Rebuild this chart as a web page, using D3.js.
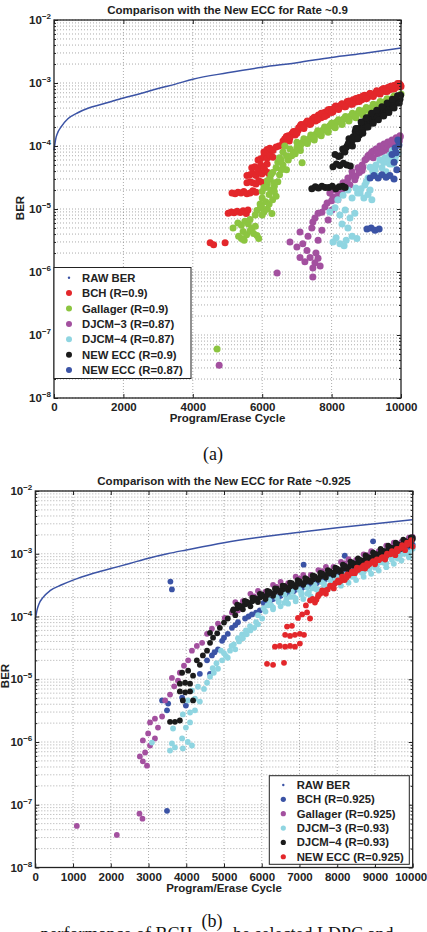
<!DOCTYPE html>
<html>
<head>
<meta charset="utf-8">
<script src="https://cdnjs.cloudflare.com/ajax/libs/d3/7.8.5/d3.min.js"></script>
<style>
  body { margin: 0; background: #fff; }
  svg { display: block; }
  text { font-family: "Liberation Sans", Arial, sans-serif; font-weight: bold; fill: #222; }
  .caption { font-family: "Liberation Serif", "Times New Roman", serif; font-weight: normal; fill: #111; }
</style>
</head>
<body>
<div id="chart"></div>
<script>
// ---- shared ticks ----
const decades = [1e-8, 1e-7, 1e-6, 1e-5, 1e-4, 1e-3, 1e-2];
const mantissas = [2, 3, 4, 5, 6, 7, 8, 9];
const xTicksA = [0, 2000, 4000, 6000, 8000, 10000];
const xTicksB = [0, 1000, 2000, 3000, 4000, 5000, 6000, 7000, 8000, 9000, 10000];

// ---- panel (a): Rate ~0.9 ----
const rawCyclesA = [0, 50, 100, 200, 400, 700, 1000, 1500, 2000, 2500, 3000, 3500, 4000, 5000, 6000, 7000, 8000, 9000, 10000];
const rawBerA = [8.5e-5, 1.3e-4, 1.6e-4, 2.0e-4, 2.7e-4, 3.4e-4, 4.0e-4, 4.8e-4, 5.8e-4, 6.8e-4, 8.2e-4, 9.6e-4, 1.15e-3, 1.45e-3, 1.78e-3, 2.1e-3, 2.55e-3, 3.0e-3, 3.6e-3];

const bchA = [
  [4500,2.9e-6],[4600,2.7e-6],[4930,2.9e-6],
  [5020,8.6e-6],[5110,9.0e-6],[5190,8.7e-6],[5280,9.2e-6],[5370,8.8e-6],[5450,9.4e-6],[5540,8.5e-6],[5590,9.6e-6],
  [5130,1.8e-5],[5220,1.75e-5],[5300,1.85e-5],[5390,1.8e-5],[5470,1.9e-5],[5560,1.75e-5],[5650,1.8e-5],[5730,1.95e-5],[5820,1.85e-5],
  [5560,2.6e-5],[5650,2.7e-5],[5730,2.6e-5],[5820,2.5e-5],[5900,2.8e-5],[5990,2.65e-5],
  [5560,3.4e-5],[5650,3.5e-5],[5730,3.7e-5],[5820,3.4e-5],[5900,3.9e-5],[5990,3.6e-5],[6080,4.1e-5],[6160,3.8e-5],[6220,3.4e-5],
  [5700,4.5e-5],[5790,4.7e-5],[5880,4.4e-5],[5960,5.0e-5],[6050,4.6e-5],[6140,5.2e-5],
  [5880,6.0e-5],[5960,6.3e-5],[6050,6.9e-5],[6140,6.4e-5],[6220,7.2e-5],[6310,6.6e-5],
  [6050,8.0e-5],[6140,8.8e-5],[6220,9.2e-5],[6310,8.5e-5],[6400,9.6e-5],[6480,1.0e-4],[6570,1.05e-4],
  [6600,1.2e-4],[6700,1.4e-4],[6780,1.2e-4],[6870,1.6e-4],[6950,1.5e-4],[7040,1.8e-4],[7120,2.2e-4],[7200,1.9e-4],
  [7290,2.4e-4],[7370,2.2e-4],[7450,2.7e-4],[7540,2.5e-4],[7620,3.1e-4],[7700,2.8e-4],[7790,3.4e-4],[7870,3.1e-4],
  [7950,3.8e-4],[8040,3.5e-4],[8120,4.3e-4],[8200,3.9e-4],[8290,4.6e-4],[8370,4.2e-4],[8450,5.1e-4],[8540,4.6e-4],
  [8620,5.4e-4],[8700,5.0e-4],[8790,5.9e-4],[8870,5.4e-4],[8950,6.4e-4],[9040,5.9e-4],[9120,6.8e-4],[9200,6.3e-4],
  [9290,7.2e-4],[9370,6.8e-4],[9450,7.9e-4],[9540,7.3e-4],[9620,8.5e-4],[9700,7.9e-4],[9790,9.1e-4],[9870,8.6e-4],
  [9950,9.8e-4],[9990,9.2e-4],
  [6650,1.3e-4],[6750,1.45e-4],[6850,1.55e-4],[6950,1.7e-4],[7050,1.95e-4],[7150,2.15e-4],[7250,2.3e-4],[7350,2.45e-4],
  [7450,2.6e-4],[7550,2.85e-4],[7650,3.05e-4],[7750,3.25e-4],[7850,3.45e-4],[7950,3.7e-4],[8050,3.9e-4],[8150,4.1e-4],
  [8250,4.35e-4],[8350,4.55e-4],[8450,4.8e-4],[8550,5.0e-4],[8650,5.25e-4],[8750,5.5e-4],[8850,5.7e-4],[8950,6.0e-4],
  [9050,6.25e-4],[9150,6.55e-4],[9250,6.85e-4],[9350,7.15e-4],[9450,7.5e-4],[9550,7.85e-4],[9650,8.2e-4],[9750,8.6e-4],
  [9850,9.0e-4],[9950,9.5e-4],
  [6700,1.42e-4],[6900,1.7e-4],[7100,2.1e-4],[7300,2.5e-4],[7500,2.85e-4],[7700,3.3e-4],[7900,3.75e-4],[8100,4.2e-4],
  [8300,4.7e-4],[8500,5.2e-4],[8700,5.7e-4],[8900,6.2e-4],[9100,6.8e-4],[9300,7.5e-4],[9500,8.2e-4],[9700,8.9e-4],[9900,9.8e-4],
  [6800,1.35e-4],[7000,1.6e-4],[7200,1.95e-4],[7400,2.25e-4],[7600,2.6e-4],[7800,2.95e-4],[8000,3.4e-4],[8200,3.8e-4],
  [8400,4.2e-4],[8600,4.6e-4],[8800,5.1e-4],[9000,5.6e-4],[9200,6.1e-4],[9400,6.7e-4],[9600,7.3e-4],[9800,8.0e-4],[10000,8.8e-4]
];

const gallagerA = [
  [4700,6e-8],
  [5160,5e-6],[5300,6e-6],[5400,5.5e-6],[5500,6.4e-6],[5600,5.8e-6],[5700,4.9e-6],[5450,4.4e-6],[5550,3.9e-6],
  [5650,4.5e-6],[5750,4.1e-6],[5850,3.8e-6],[5400,3.4e-6],[5320,3.7e-6],[5900,3.4e-6],[5480,3.2e-6],[5800,5.3e-6],[5650,6.8e-6],
  [5850,9.5e-6],[5950,1.05e-5],[6050,9e-6],[6150,1.0e-5],[6280,8.5e-6],[5800,8e-6],[6000,8e-6],
  [5940,1.2e-5],[6000,1.5e-5],[6100,1.3e-5],[6200,1.7e-5],[6300,1.4e-5],[6400,1.6e-5],[5980,1.1e-5],[6200,1.2e-5],
  [6050,2.2e-5],[6150,2.5e-5],[6250,2.0e-5],[6350,2.3e-5],[6450,2.7e-5],[6000,1.9e-5],[6100,2.2e-5],[6350,1.9e-5],
  [6220,3.0e-5],[6300,3.8e-5],[6400,4.5e-5],[6500,3.5e-5],[6600,5.0e-5],[6700,4.2e-5],[6350,2.6e-5],[6250,3.5e-5],[6150,2.8e-5],[6550,4.2e-5],
  [6500,6.5e-5],[6600,8e-5],[6700,7e-5],[6800,9e-5],[6900,8e-5],[7000,9.5e-5],[7100,8.5e-5],[7150,5.4e-5],[6650,1.0e-4],
  [6450,5.5e-5],[6550,6e-5],[6750,6e-5],[6850,7e-5],[6950,7.5e-5],
  [7100,1.0e-4],[7200,1.2e-4],[7300,1.1e-4],[7400,1.35e-4],[7500,1.25e-4],[7600,1.55e-4],[7700,1.45e-4],[7800,1.8e-4],
  [7900,1.65e-4],[8000,2.1e-4],[8100,1.95e-4],[8200,2.4e-4],[8300,2.2e-4],[8400,2.7e-4],[8500,2.5e-4],[8600,3.0e-4],
  [8700,2.8e-4],[8800,3.4e-4],[8900,3.1e-4],[9000,3.8e-4],[9100,3.5e-4],[9200,4.2e-4],[9300,3.9e-4],[9400,4.7e-4],
  [9500,4.3e-4],[9600,5.2e-4],[9700,4.8e-4],[9800,5.8e-4],[9900,5.4e-4],[9980,6.4e-4],[7000,1.15e-4],
  [7150,1.12e-4],[7250,1.2e-4],[7350,1.3e-4],[7450,1.42e-4],[7550,1.55e-4],[7650,1.68e-4],[7750,1.8e-4],[7850,1.95e-4],
  [7950,2.12e-4],[8050,2.3e-4],[8150,2.42e-4],[8250,2.55e-4],[8350,2.7e-4],[8450,2.85e-4],[8550,3.0e-4],[8650,3.15e-4],
  [8750,3.3e-4],[8850,3.5e-4],[8950,3.7e-4],[9050,3.9e-4],[9150,4.1e-4],[9250,4.35e-4],[9350,4.6e-4],[9450,4.85e-4],
  [9550,5.1e-4],[9650,5.4e-4],[9750,5.7e-4],[9850,6.0e-4],[9950,6.3e-4],
  [7200,1.3e-4],[7400,1.5e-4],[7600,1.75e-4],[7800,2.0e-4],[8000,2.3e-4],[8200,2.6e-4],[8400,2.95e-4],[8600,3.3e-4],
  [8800,3.7e-4],[9000,4.1e-4],[9200,4.6e-4],[9400,5.1e-4],[9600,5.6e-4],[9800,6.2e-4],[10000,6.7e-4],
  [7300,1.15e-4],[7500,1.35e-4],[7700,1.55e-4],[7900,1.75e-4],[8100,2.0e-4],[8300,2.3e-4],[8500,2.6e-4],[8700,2.9e-4],
  [8900,3.25e-4],[9100,3.6e-4],[9300,4.0e-4],[9500,4.45e-4],[9700,4.95e-4],[9900,5.5e-4]
];

const djcm3A = [
  [4760,3.3e-8],[6430,9.6e-7],[7460,8.3e-7],
  [6800,3.0e-6],[7000,2.5e-6],[7170,2.8e-6],[7290,2.2e-6],[7090,1.7e-6],[7230,1.45e-6],[7380,1.7e-6],[7520,1.4e-6],
  [7610,1.65e-6],[7460,1.16e-6],[7670,1.25e-6],[7550,2.0e-6],
  [7090,4.3e-6],[7320,3.7e-6],[7430,5.0e-6],[7610,3.2e-6],[7720,4.6e-6],[7460,6.2e-6],
  [7520,7.2e-6],[7720,8.9e-6],[7900,6.7e-6],[7810,1.08e-5],[8010,9.6e-6],[7610,8.6e-6],
  [7870,1.25e-5],[8040,1.55e-5],[8180,1.4e-5],[8100,2.0e-5],[8300,1.8e-5],[8390,2.15e-5],[7950,1.8e-5],[8000,1.35e-5],[8200,1.7e-5],
  [8330,2.6e-5],[8470,3.1e-5],[8590,3.9e-5],[8700,3.3e-5],[8760,4.5e-5],[8880,5.0e-5],[8530,2.4e-5],[8670,2.9e-5],[8880,4.1e-5],
  [8450,2.7e-5],[8600,3.4e-5],[8800,3.8e-5],[8900,4.6e-5],
  [8960,6.0e-5],[9050,7.0e-5],[9160,8.0e-5],[9280,9.0e-5],[9390,1.0e-4],[9510,1.08e-4],[9620,1.16e-4],[9740,1.25e-4],
  [9860,1.35e-4],[9970,1.45e-4],[9110,6.8e-5],[9330,7.5e-5],[9570,8.6e-5],[9800,1.0e-4],[9910,1.16e-4],
  [9000,6.3e-5],[9100,7.3e-5],[9200,8.3e-5],[9300,8.5e-5],[9400,9.3e-5],[9500,1.0e-4],[9600,1.08e-4],[9700,1.15e-4],
  [9800,1.22e-4],[9900,1.3e-4],[9980,1.4e-4],[9200,6.5e-5],[9450,8e-5],[9700,9.5e-5],[9950,1.2e-4]
];

const djcm4A = [
  [7950,9e-6],[8100,1.05e-5],[8240,8e-6],[8390,9.6e-6],[8530,7.2e-6],[8670,8.6e-6],[8300,5.8e-6],[8470,5e-6],
  [8130,3.5e-6],[8240,2.8e-6],[8420,3.2e-6],[8590,3.7e-6],[8730,3.4e-6],[8360,2.6e-6],[8040,3.0e-6],
  [8180,1.4e-5],[8330,1.65e-5],[8470,2.0e-5],[8590,1.5e-5],[8700,2.15e-5],[8820,1.8e-5],[8960,2.4e-5],[9110,2.0e-5],
  [8930,1.5e-5],[9160,1.4e-5],[8850,2.1e-5],[8750,1.8e-5],[9050,1.7e-5],[9000,2.7e-5],
  [9050,3.1e-5],[9190,3.9e-5],[9330,3.3e-5],[9450,4.5e-5],[9570,3.9e-5],[9680,5.2e-5],[9250,4.2e-5],
  [9390,6.0e-5],[9540,6.5e-5],[9680,7.2e-5],[9830,6.0e-5],[9910,7.7e-5],[9280,5.0e-5],[9110,4.6e-5],[9750,8.5e-5],
  [9600,5.5e-5],[9500,5.5e-5],[9650,6.2e-5],[9750,5.2e-5],[9850,7e-5]
];

const newEcc90A = [
  [7430,2.1e-5],[7530,2.25e-5],[7620,2.15e-5],[7720,2.3e-5],[7820,2.2e-5],[7920,2.2e-5],[8020,2.3e-5],[8120,2.1e-5],
  [8220,2.25e-5],[8320,2.3e-5],[8390,2.2e-5],
  [8040,4.7e-5],[8140,5.2e-5],[8240,4.9e-5],[8340,5.3e-5],[8440,5.0e-5],[8540,4.8e-5],[8100,7.3e-5],[8200,6.8e-5],
  [8250,7e-5],[8320,9e-5],[8380,8e-5],[8450,1.0e-4],[8500,1.3e-4],[8560,1.1e-4],[8620,1.4e-4],[8680,1.7e-4],[8700,1.3e-4],
  [8760,1.9e-4],[8800,1.5e-4],[8870,2.2e-4],[8900,1.8e-4],[8960,2.5e-4],[9000,2.0e-4],[9060,2.8e-4],[9100,2.3e-4],
  [9170,3.0e-4],[9220,2.6e-4],[9280,3.4e-4],[9330,2.8e-4],[9390,3.6e-4],[9450,3.1e-4],[9500,4.0e-4],[9550,3.4e-4],
  [9610,4.3e-4],[9660,3.8e-4],[9720,4.8e-4],[9780,4.2e-4],[9830,5.4e-4],[9880,4.8e-4],[9930,6.0e-4],[9970,5.5e-4],[9990,6.4e-4],
  [8350,8.5e-5],[8420,9.5e-5],[8480,1.1e-4],[8540,1.15e-4],[8600,1.25e-4],[8660,1.4e-4],[8730,1.55e-4],[8790,1.7e-4],
  [8850,1.85e-4],[8920,2.0e-4],[8980,2.2e-4],[9040,2.35e-4],[9110,2.5e-4],[9180,2.65e-4],[9250,2.85e-4],[9310,3.0e-4],
  [9380,3.2e-4],[9440,3.35e-4],[9510,3.5e-4],[9570,3.75e-4],[9630,4.0e-4],[9690,4.25e-4],[9750,4.6e-4],[9810,4.95e-4],
  [9870,5.3e-4],[9940,5.8e-4],
  [8600,1.0e-4],[8750,1.3e-4],[8900,1.6e-4],[9050,2.0e-4],[9200,2.3e-4],[9350,2.6e-4],[9500,3.0e-4],[9650,3.4e-4],
  [9800,4.0e-4],[9950,4.8e-4],[8700,1.9e-4],[8850,2.4e-4],[9000,2.8e-4],[9150,3.3e-4],[9300,3.7e-4],[9450,4.2e-4],
  [9600,4.8e-4],[9750,5.5e-4],[9900,6.3e-4]
];

const newEcc87A = [
  [9020,4.8e-6],[9140,5e-6],[9250,4.6e-6],[9370,4.8e-6],
  [9110,3.1e-5],[9220,3.4e-5],[9340,3.1e-5],[9450,3.5e-5],[9570,3.2e-5],[9680,3.4e-5],[9800,3.0e-5],[9880,4.2e-5],
  [9740,7.3e-5],[9830,9.3e-5],[9910,1.25e-4],[9860,7.8e-5],[9940,1.04e-4],[9800,5.5e-5]
];

// ---- panel (b): Rate ~0.925 ----
const rawCyclesB = [0, 50, 100, 200, 400, 700, 1000, 1500, 2000, 2500, 3000, 3500, 4000, 5000, 6000, 7000, 8000, 9000, 10000];
const rawBerB = [9e-5, 1.3e-4, 1.6e-4, 2.0e-4, 2.6e-4, 3.2e-4, 3.8e-4, 4.8e-4, 5.8e-4, 7.0e-4, 8.5e-4, 1.0e-3, 1.15e-3, 1.5e-3, 1.85e-3, 2.2e-3, 2.6e-3, 3.0e-3, 3.5e-3];

const bchB = [
  [3580,3.6e-4],[3620,2.7e-4],[7110,6.7e-4],[8200,9.3e-4],[8950,1.58e-3],[3490,8e-8],
  [3360,4.6e-6],[3490,3.2e-6],[3520,4.1e-6],[3890,5.1e-6],[3990,3.8e-6],[4360,1.22e-5],[4630,1.22e-5],
  [4550,2e-5],[4680,2.4e-5],[4840,3e-5],[4950,4.1e-5],[5100,5.3e-5],[5210,6.6e-5],[5370,8.1e-5],[5560,9.3e-5],
  [5740,1.08e-4],[5950,1.25e-4],[4750,2.7e-5],[5000,4.6e-5],[5300,7.3e-5],[5650,1.0e-4],[5850,1.15e-4],
  [6100,1.7e-4],[6300,1.9e-4],[6500,2.15e-4],[6700,2.4e-4],[6900,2.7e-4],[7100,2.95e-4],[7300,3.3e-4],[7500,3.6e-4],
  [7700,4.0e-4],[7900,4.4e-4],[8100,4.9e-4],[8300,5.4e-4],[8500,6.0e-4],[8700,6.6e-4],[8900,7.4e-4],[9100,8.2e-4],
  [9300,9.1e-4],[9500,1.02e-3],[9700,1.13e-3],[9900,1.28e-3],[10000,1.4e-3],
  [6050,1.65e-4],[6250,1.85e-4],[6450,2.05e-4],[6650,2.3e-4],[6850,2.55e-4],[7050,2.8e-4],[7250,3.1e-4],[7450,3.4e-4],
  [7650,3.75e-4],[7850,4.15e-4],[8050,4.6e-4],[8250,5.1e-4],[8450,5.6e-4],[8650,6.2e-4],[8850,6.9e-4],[9050,7.7e-4],
  [9250,8.6e-4],[9450,9.6e-4],[9650,1.07e-3],[9850,1.2e-3]
];

const gallagerB = [
  [2760,7.2e-8],[2840,6e-8],[1100,4.6e-8],[2160,3.3e-8],
  [2770,5.9e-7],[2850,4.9e-7],[2960,4.2e-7],[2910,6.8e-7],[3040,8.8e-7],[2850,1.06e-6],[3170,1.14e-6],[2990,1.37e-6],
  [3250,1.7e-6],[3040,2.05e-6],[3170,2.35e-6],[3360,2.55e-6],[3440,4.6e-6],[3570,5.7e-6],[3680,7.7e-6],[3780,9.5e-6],
  [3620,1.05e-5],[3830,1.27e-5],[3940,1.64e-5],[4050,2e-5],[4150,2.85e-5],[4280,3.4e-5],[4420,3.8e-5],[4550,5.3e-5],
  [4680,6.4e-5],[4840,7.7e-5],[5020,9.5e-5],[5210,1.16e-4],[5370,1.25e-4],
  [5500,1.75e-4],[5800,2.1e-4],[6100,2.5e-4],[6400,2.95e-4],[6700,3.4e-4],[7000,4.0e-4],[7300,4.6e-4],[7600,5.3e-4],
  [7900,6.2e-4],[8200,7.0e-4],[8500,8.0e-4],[8800,9.5e-4],[9100,1.1e-3],[9400,1.3e-3],[9700,1.55e-3],[10000,1.85e-3],
  [5300,1.7e-4],[5700,2.3e-4],[5900,2.55e-4],[6300,3.2e-4],[6500,3.55e-4],[6900,4.3e-4],[7100,4.6e-4],[7500,5.5e-4],
  [7700,6.2e-4],[8100,7.4e-4],[8300,8.2e-4],[8700,9.8e-4],[8900,1.1e-3],[9300,1.35e-3],[9500,1.5e-3],[9900,1.8e-3]
];

const djcm3B = [
  [3090,9.8e-7],[3570,7.3e-7],[3700,8.2e-7],[3620,9.5e-7],[3910,7.9e-7],[4040,1.0e-6],[4150,8.8e-7],[3890,1.14e-6],
  [3650,1.64e-6],[3990,1.7e-6],[4100,2.05e-6],[3910,2.75e-6],[4100,2.95e-6],[4230,3.2e-6],[4040,4.6e-6],[4230,4.9e-6],
  [4360,4.4e-6],[4150,6.6e-6],[4310,7.6e-6],[4470,7e-6],[4550,8.8e-6],[4630,1.1e-5],[4730,1.27e-5],[4840,1.47e-5],
  [4950,2e-5],[5050,2.35e-5],[5160,2.85e-5],[4920,2.85e-5],[5260,3.6e-5],[5370,4.5e-5],[5480,5.2e-5],[5580,6e-5],
  [5690,7e-5],[5850,8.1e-5],[6010,9.3e-5],
  [4700,1.5e-5],[4800,1.8e-5],[5000,2.6e-5],[5100,2.2e-5],[5200,3.4e-5],[5300,3.0e-5],[5400,4e-5],[5500,4.5e-5],
  [5600,5.2e-5],[5700,6e-5],[5800,6.6e-5],[5900,7.5e-5],
  [6150,1.5e-4],[6300,1.4e-4],[6450,1.75e-4],[6600,1.65e-4],[6750,2.05e-4],[6900,1.95e-4],[7050,2.4e-4],[7200,2.3e-4],
  [7350,2.8e-4],[7500,2.7e-4],[7650,3.3e-4],[7800,3.1e-4],[7950,3.9e-4],[8100,3.7e-4],[8250,4.5e-4],[8400,4.3e-4],
  [8550,5.3e-4],[8700,5.1e-4],[8850,6.2e-4],[9000,6.0e-4],[9150,7.3e-4],[9300,7.1e-4],[9450,8.6e-4],[9600,8.4e-4],
  [9750,1.0e-3],[9900,1.05e-3],[10000,1.2e-3],[5900,1.05e-4],
  [6100,1.2e-4],[6300,1.3e-4],[6500,1.45e-4],[6700,1.6e-4],[6900,1.75e-4],[7100,1.9e-4],[7300,2.1e-4],[7500,2.3e-4],
  [7700,2.55e-4],[7900,2.8e-4],[8100,3.1e-4],[8300,3.45e-4],[8500,3.8e-4],[8700,4.3e-4],[8900,4.8e-4],[9100,5.4e-4],
  [9300,6.1e-4],[9500,6.9e-4],[9700,7.8e-4],[9900,8.8e-4],
  [6200,1.8e-4],[6400,2.0e-4],[6600,2.25e-4],[6800,2.5e-4],[7000,2.65e-4],[7200,2.9e-4],[7400,3.2e-4],[7600,3.5e-4],
  [7800,3.85e-4],[8000,4.2e-4],[8200,4.6e-4],[8400,5.1e-4],[8600,5.7e-4],[8800,6.4e-4],[9000,7.1e-4],[9200,8.0e-4],
  [9400,8.9e-4],[9600,1.0e-3],[9800,1.12e-3],[10000,1.28e-3],
  [6050,1.35e-4],[6250,1.5e-4],[6450,1.7e-4],[6650,1.85e-4],[6850,2.05e-4],[7050,2.25e-4],[7250,2.45e-4],[7450,2.7e-4],
  [7650,3.0e-4],[7850,3.3e-4],[8050,3.6e-4],[8250,4.0e-4],[8450,4.45e-4],[8650,5.0e-4],[8850,5.6e-4],[9050,6.3e-4],
  [9250,7.1e-4],[9450,8.0e-4],[9650,9.0e-4],[9850,1.0e-3]
];

const djcm4B = [
  [3570,2.1e-6],[3700,2.1e-6],[3830,2.2e-6],[3910,4.6e-6],[4180,4.6e-6],
  [3830,6.4e-6],[3970,6.2e-6],[4100,6.4e-6],[3830,8.5e-6],[3970,8.8e-6],[4100,8.5e-6],
  [3890,1.27e-5],[4050,1.37e-5],[4180,1.14e-5],[4280,2e-5],[4440,2.4e-5],[4550,2.85e-5],[4360,1.7e-5],
  [4630,3.8e-5],[4710,4.6e-5],[4820,5.4e-5],[4890,6.6e-5],[4630,5.5e-5],[5000,8e-5],[5100,9.3e-5],
  [5240,1.25e-4],[5300,1.05e-4],[5400,1.4e-4],[5500,1.3e-4],[5600,1.6e-4],[5700,1.45e-4],[5800,1.85e-4],[5900,1.7e-4],
  [6000,2.1e-4],[6100,1.9e-4],[6200,2.35e-4],[6300,2.15e-4],[6400,2.6e-4],[6500,2.4e-4],[6600,2.85e-4],[6700,2.65e-4],
  [6800,3.15e-4],[6900,2.95e-4],[7000,3.45e-4],[7100,3.2e-4],[7200,3.75e-4],[7300,3.55e-4],[7400,4.1e-4],[7500,3.85e-4],
  [7600,4.5e-4],[7700,4.2e-4],[7800,4.9e-4],[7900,4.6e-4],[8000,5.4e-4],[8100,5.0e-4],[8200,5.9e-4],[8300,5.5e-4],
  [8400,6.5e-4],[8500,6.1e-4],[8600,7.2e-4],[8700,6.8e-4],[8800,8.0e-4],[8900,7.6e-4],[9000,8.9e-4],[9100,8.5e-4],
  [9200,1.0e-3],[9300,9.5e-4],[9400,1.13e-3],[9500,1.07e-3],[9600,1.27e-3],[9700,1.2e-3],[9800,1.42e-3],[9900,1.38e-3],
  [9950,1.55e-3],[10000,1.7e-3],
  [5250,1.3e-4],[5350,1.35e-4],[5450,1.45e-4],[5550,1.55e-4],[5650,1.65e-4],[5750,1.75e-4],[5850,1.9e-4],[5950,2.0e-4],
  [6050,2.1e-4],[6150,2.2e-4],[6250,2.32e-4],[6350,2.45e-4],[6450,2.58e-4],[6550,2.7e-4],[6650,2.85e-4],[6750,3.0e-4],
  [6850,3.15e-4],[6950,3.3e-4],[7050,3.4e-4],[7150,3.55e-4],[7250,3.7e-4],[7350,3.9e-4],[7450,4.1e-4],[7550,4.3e-4],
  [7650,4.55e-4],[7750,4.8e-4],[7850,5.0e-4],[7950,5.2e-4],[8050,5.5e-4],[8150,5.8e-4],[8250,6.1e-4],[8350,6.5e-4],
  [8450,6.9e-4],[8550,7.3e-4],[8650,7.8e-4],[8750,8.2e-4],[8850,8.7e-4],[8950,9.2e-4],[9050,9.8e-4],[9150,1.04e-3],
  [9250,1.1e-3],[9350,1.17e-3],[9450,1.24e-3],[9550,1.31e-3],[9650,1.37e-3],[9750,1.45e-3],[9850,1.55e-3],[9950,1.65e-3],
  [5350,1.55e-4],[5550,1.78e-4],[5750,2.0e-4],[5950,2.3e-4],[6150,2.55e-4],[6350,2.8e-4],[6550,3.1e-4],[6750,3.45e-4],
  [6950,3.8e-4],[7150,4.1e-4],[7350,4.5e-4],[7550,4.95e-4],[7750,5.5e-4],[7950,6.0e-4],[8150,6.7e-4],[8350,7.5e-4],
  [8550,8.4e-4],[8750,9.4e-4],[8950,1.05e-3],[9150,1.2e-3],[9350,1.34e-3],[9550,1.5e-3],[9750,1.67e-3],[9950,1.82e-3],
  [5400,1.5e-4],[5600,1.72e-4],[5800,1.98e-4],[6000,2.25e-4],[6200,2.5e-4],[6400,2.78e-4],[6600,3.08e-4],[6800,3.4e-4],
  [7000,3.65e-4],[7200,3.95e-4],[7400,4.4e-4],[7600,4.85e-4],[7800,5.3e-4],[8000,5.8e-4],[8200,6.4e-4],[8400,7.2e-4],
  [8600,8.0e-4],[8800,8.9e-4],[9000,9.9e-4],[9200,1.12e-3],[9400,1.26e-3],[9600,1.42e-3],[9800,1.6e-3],[10000,1.8e-3]
];

const newEccB = [
  [6140,1.76e-5],[6300,1.7e-5],[6590,1.83e-5],
  [6350,3.3e-5],[6480,3.4e-5],[6620,3.3e-5],[6750,3.4e-5],[6880,3.3e-5],[7010,3.7e-5],
  [6620,5.1e-5],[6750,4.9e-5],[6880,5.1e-5],[7010,5.3e-5],[7120,5.1e-5],[6670,6.9e-5],[6800,7.1e-5],
  [6960,9.5e-5],[7070,1.08e-4],[7200,1.16e-4],[7280,9.3e-5],[7170,1.5e-4],[7280,1.8e-4],[7410,1.67e-4],
  [7490,2.08e-4],[7600,2.6e-4],[7700,2.3e-4],[7810,3.1e-4],[7910,2.8e-4],[8020,3.75e-4],[8130,4.3e-4],[8260,4.7e-4],
  [8390,5.2e-4],[8520,6e-4],[8660,6.2e-4],[8790,7e-4],[8920,7.3e-4],[9050,8.1e-4],[9180,8.7e-4],[9320,1e-3],
  [9450,1.1e-3],[9580,1.2e-3],[9720,1.37e-3],[9850,1.5e-3],[9960,1.65e-3],
  [8200,3.8e-4],[8470,4.9e-4],[8740,5.8e-4],[9000,6.8e-4],[9270,8.1e-4],[9540,9.5e-4],[9800,1.14e-3],[10000,1.3e-3],
  [7350,1.9e-4],[7450,1.85e-4],[7550,2.3e-4],[7650,2.45e-4],[7750,2.7e-4],[7850,3.0e-4],[7950,3.4e-4],[8050,3.5e-4],
  [8150,3.9e-4],[8300,4.5e-4],[8450,5.3e-4],[8550,5.5e-4],[8600,5.8e-4],[8700,6.5e-4],[8850,6.8e-4],[8950,7.6e-4],
  [9100,7.9e-4],[9200,8.8e-4],[9400,9.8e-4],[9500,1.05e-3],[9650,1.2e-3],[9750,1.32e-3],[9900,1.45e-3],
  [7500,2.2e-4],[7700,2.6e-4],[7900,3.1e-4],[8100,3.7e-4],[8250,4.2e-4],[8400,4.9e-4],[8650,5.9e-4],[8800,6.4e-4],
  [9000,7.2e-4],[9150,8.3e-4],[9300,9.2e-4],[9450,1.0e-3],[9600,1.1e-3],[9700,1.25e-3],[9850,1.38e-3],[9950,1.55e-3]
];

// ---- colours & labels ----
const colRed = '#e3272b', colGreen = '#8cc540', colPurple = '#a3509f',
      colCyan = '#8fd5e1', colBlack = '#1b1b1b', colBlue = '#3b53a5';

const svg = d3.select('#chart').append('svg')
  .attr('width', 427)
  .attr('height', 932);

svg.append('rect').attr('width', 427).attr('height', 932).attr('fill', '#fff');

function drawPanel(p) {
  const width = p.right - p.left;
  const height = p.bottom - p.top;
  const g = svg.append('g').attr('transform', `translate(${p.left}, ${p.top})`);

  const x = d3.scaleLinear().domain([0, 10000]).range([0, width]);
  const y = d3.scaleLog().domain([1e-8, 1e-2]).range([height, 0]);

  const minor = [];
  decades.slice(0, -1).forEach(d => mantissas.forEach(m => minor.push(m * d)));

  // dotted grid
  const grid = g.append('g')
    .attr('stroke', '#888')
    .attr('stroke-width', 0.7)
    .attr('stroke-dasharray', '1,2');
  grid.selectAll('.hy').data(decades.concat(minor)).join('line')
    .attr('x1', 0).attr('x2', width)
    .attr('y1', d => y(d)).attr('y2', d => y(d));
  grid.selectAll('.vx').data(p.xTicks.slice(1, -1)).join('line')
    .attr('y1', 0).attr('y2', height)
    .attr('x1', d => x(d)).attr('x2', d => x(d));

  // raw BER line
  const line = d3.line()
    .x((d, i) => x(p.rawX[i]))
    .y(d => y(d))
    .curve(d3.curveMonotoneX);
  g.append('path')
    .datum(p.rawY)
    .attr('fill', 'none')
    .attr('stroke', colBlue)
    .attr('stroke-width', 1.5)
    .attr('d', line);

  // scatter series, drawn in legend order
  p.series.forEach(s => {
    g.append('g').selectAll('circle')
      .data(s.data)
      .join('circle')
      .attr('cx', d => x(d[0]))
      .attr('cy', d => y(d[1]))
      .attr('r', p.r)
      .attr('fill', s.color);
  });

  // axes, ticks inside
  const xAxis = g.append('g')
    .attr('transform', `translate(0, ${height})`)
    .call(d3.axisBottom(x).tickValues(p.xTicks).tickSize(-4).tickPadding(5).tickFormat(d3.format('d')));
  g.append('g')
    .call(d3.axisTop(x).tickValues(p.xTicks).tickSize(-4).tickFormat(''));

  const yAxis = g.append('g')
    .call(d3.axisLeft(y).tickValues(decades).tickSize(-4).tickPadding(3));
  g.append('g').call(d3.axisLeft(y).tickValues(minor).tickSize(-2).tickFormat(''));
  g.append('g').attr('transform', `translate(${width}, 0)`)
    .call(d3.axisRight(y).tickValues(decades).tickSize(-4).tickFormat(''));
  g.append('g').attr('transform', `translate(${width}, 0)`)
    .call(d3.axisRight(y).tickValues(minor).tickSize(-2).tickFormat(''));

  g.selectAll('.domain').remove();
  g.selectAll('.tick line').attr('stroke', '#222');
  g.selectAll('.tick text').attr('font-size', 11.5).attr('fill', '#222');

  // keep the last x label inside the page
  xAxis.selectAll('.tick text').filter(d => d === 10000).attr('dx', p.lastDx);

  // 10^n labels
  yAxis.selectAll('.tick text').each(function (d) {
    const t = d3.select(this).text('');
    t.append('tspan').text('10');
    t.append('tspan').attr('dy', -5).attr('font-size', 8).text('\u2212' + Math.round(-Math.log10(d)));
  });

  // box
  g.append('rect')
    .attr('width', width).attr('height', height)
    .attr('fill', 'none').attr('stroke', '#222').attr('stroke-width', 1.3);

  // titles
  g.append('text')
    .attr('x', width / 2).attr('y', -6)
    .attr('text-anchor', 'middle').attr('font-size', 11.5)
    .text(p.title);
  g.append('text')
    .attr('x', width / 2).attr('y', height + 24)
    .attr('text-anchor', 'middle').attr('font-size', 11.5)
    .text('Program/Erase Cycle');
  svg.append('text')
    .attr('transform', `translate(${p.berX}, ${p.berY}) rotate(-90)`)
    .attr('text-anchor', 'middle').attr('font-size', 11.5)
    .text('BER');

  // legend
  const lg = svg.append('g').attr('transform', `translate(${p.legend.x}, ${p.legend.y})`);
  lg.append('rect')
    .attr('width', p.legend.w).attr('height', p.legend.h)
    .attr('fill', '#fff').attr('stroke', '#222').attr('stroke-width', 1);
  const entries = [{ label: 'RAW BER', color: colBlue, raw: true }].concat(p.series);
  entries.forEach((e, i) => {
    const cy = p.legend.first + i * p.legend.step;
    lg.append('circle')
      .attr('cx', p.legend.mx).attr('cy', cy)
      .attr('r', e.raw ? 1.2 : p.legend.r)
      .attr('fill', e.color);
    lg.append('text')
      .attr('x', p.legend.tx).attr('y', cy + 4)
      .attr('font-size', 11.3)
      .text(e.label);
  });
}

drawPanel({
  left: 54, right: 401, top: 20, bottom: 398,
  title: 'Comparison with the New ECC for Rate ~0.9',
  xTicks: xTicksA, rawX: rawCyclesA, rawY: rawBerA, r: 3.5, lastDx: 0,
  berX: 24, berY: 208,
  series: [
    { label: 'BCH (R=0.9)', color: colRed, data: bchA },
    { label: 'Gallager (R=0.9)', color: colGreen, data: gallagerA },
    { label: 'DJCM\u22123 (R=0.87)', color: colPurple, data: djcm3A },
    { label: 'DJCM\u22124 (R=0.87)', color: colCyan, data: djcm4A },
    { label: 'NEW ECC (R=0.9)', color: colBlack, data: newEcc90A },
    { label: 'NEW ECC (R=0.87)', color: colBlue, data: newEcc87A }
  ],
  legend: { x: 54, y: 267.5, w: 137, h: 111, first: 10.2, step: 15.4, mx: 15, tx: 28, r: 3 }
});

drawPanel({
  left: 35.3, right: 412.7, top: 491, bottom: 867.5,
  title: 'Comparison with the New ECC for Rate ~0.925',
  xTicks: xTicksB, rawX: rawCyclesB, rawY: rawBerB, r: 2.9, lastDx: -2,
  berX: 9, berY: 676,
  series: [
    { label: 'BCH (R=0.925)', color: colBlue, data: bchB },
    { label: 'Gallager (R=0.925)', color: colPurple, data: gallagerB },
    { label: 'DJCM\u22123 (R=0.93)', color: colCyan, data: djcm3B },
    { label: 'DJCM\u22124 (R=0.93)', color: colBlack, data: djcm4B },
    { label: 'NEW ECC (R=0.925)', color: colRed, data: newEccB }
  ],
  legend: { x: 269.3, y: 775.7, w: 140, h: 88.6, first: 9.3, step: 14.35, mx: 14, tx: 27.4, r: 2.6 }
});

// figure captions
svg.append('text').attr('class', 'caption')
  .attr('x', 213).attr('y', 460).attr('text-anchor', 'middle').attr('font-size', 18)
  .text('(a)');
svg.append('text').attr('class', 'caption')
  .attr('x', 212).attr('y', 927).attr('text-anchor', 'middle').attr('font-size', 18)
  .text('(b)');
svg.append('text').attr('class', 'caption')
  .attr('x', 197).attr('y', 940).attr('text-anchor', 'end').attr('font-size', 18)
  .text('performance of BCH,');
svg.append('text').attr('class', 'caption')
  .attr('x', 233).attr('y', 940).attr('font-size', 18)
  .text('he selected LDPC and');
</script>
</body>
</html>
